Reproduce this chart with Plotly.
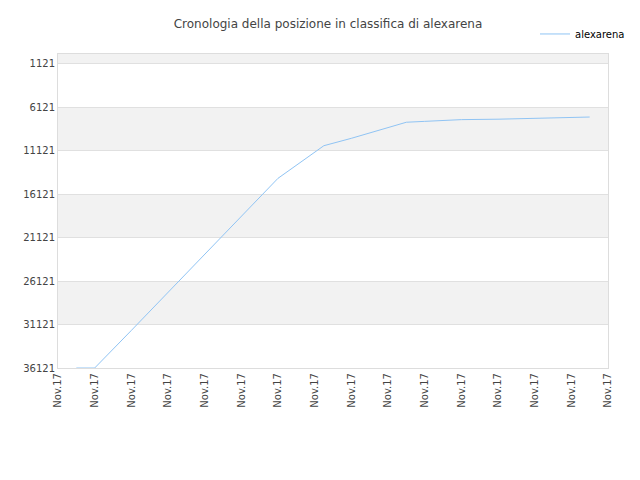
import plotly.graph_objects as go

# days (index along the x axis) and rank positions
days = [0.5, 1.0, 2.0, 3.0, 4.0, 5.0, 6.0, 6.3, 7.25, 8.0, 9.0, 9.5, 10.0, 11.0, 12.0, 13.0, 14.0, 14.5]
ranks = [36121, 36121, 31800, 27400, 23000, 18700, 14300, 13400, 10550, 9700, 8500, 7850, 7750, 7550, 7500, 7400, 7300, 7250]
tick_pos = list(range(16))
tick_text = ["Nov.17"] * 16
y_ticks = [1121, 6121, 11121, 16121, 21121, 26121, 31121, 36121]
y_text = [str(v) for v in y_ticks]

fig = go.Figure()
fig.add_trace(go.Scatter(x=days, y=ranks, mode="lines", name="alexarena",
                         line=dict(color="#90c4f4", width=1)))

# alternating background bands
bands = [(0, 1121), (6121, 11121), (16121, 21121), (26121, 31121)]
for lo, hi in bands:
    fig.add_shape(type="rect", xref="paper", x0=0, x1=1, yref="y", y0=lo, y1=hi,
                  fillcolor="#f2f2f2", line_width=0, layer="below")

fig.update_layout(
    width=640, height=480,
    title=dict(text="Cronologia della posizione in classifica di alexarena", x=0.5, y=0.975,
               font=dict(family="DejaVu Sans", size=12, color="#444")),
    font=dict(family="DejaVu Sans", size=10, color="#444"),
    margin=dict(l=50, r=40, t=40, b=120),
    plot_bgcolor="white", paper_bgcolor="white",
    showlegend=True,
    legend=dict(x=1.04, y=1.11, xanchor="right", yanchor="top", font=dict(size=10, color="#000")),
    xaxis=dict(range=[0, 15], tickvals=tick_pos, ticktext=tick_text, tickangle=-90,
               showgrid=False, zeroline=False, showline=True, linecolor="#ddd", mirror=True,
               automargin=False),
    yaxis=dict(range=[36121, 0], tickvals=y_ticks, ticktext=y_text, gridcolor="#e0e0e0",
               zeroline=False, showline=True, linecolor="#ddd", mirror=True, automargin=False),
)
fig.write_html("out.html")
